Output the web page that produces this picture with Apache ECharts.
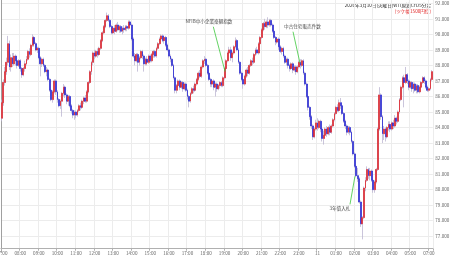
<!DOCTYPE html>
<html><head><meta charset="utf-8">
<script src="https://cdn.jsdelivr.net/npm/echarts@6/dist/echarts.min.js"></script>
<style>html,body{margin:0;padding:0;background:#fff}#c{width:450px;height:258px}</style>
</head><body><div id="c"></div>
<script>
// hour tick labels (every 12 bars of 5 minutes)
const tickLabels = ['07:00','08:00','09:00','10:00','11:00','12:00','13:00','14:00','15:00','16:00','17:00','18:00','19:00','20:00','21:00','22:00','23:00','11','01:00','02:00','03:00','04:00','05:00','07:00'];
const yTicks = {min: 76, max: 93, step: 1};
// 5-minute candles: [open, close, low, high]
const ohlc = [
[84.6,85.6,84.4,85.8],[85.6,86.9,85.4,87.1],[86.9,87.6,86.7,87.9],[87.6,88.2,87.4,88.5],[88.2,89.4,88.0,89.9],[89.4,87.9,87.7,89.6],[87.9,88.5,87.6,88.7],[88.5,88.1,87.9,88.8],[88.1,88.6,88.0,88.8],[88.6,88.3,88.0,88.7],[88.3,88.0,87.8,88.5],[88.0,88.3,87.9,88.4],
[88.3,87.8,87.6,88.4],[87.8,87.4,87.2,87.9],[87.4,87.8,87.3,87.9],[87.8,88.1,87.6,88.3],[88.1,88.4,88.0,88.6],[88.4,88.9,88.3,89.0],[88.9,88.7,88.5,89.1],[88.7,89.3,88.6,89.4],[89.3,89.8,89.2,90.0],[89.8,89.4,89.2,89.9],[89.4,89.0,88.9,89.5],[89.0,89.1,88.8,89.2],
[89.1,88.5,88.4,89.2],[88.5,88.1,87.3,88.6],[88.1,88.4,87.9,88.5],[88.4,88.0,87.9,88.5],[88.0,87.6,87.5,88.1],[87.6,87.7,87.3,87.9],[87.7,87.1,87.0,87.8],[87.1,86.4,86.3,87.2],[86.4,85.8,85.7,86.5],[85.8,86.3,85.6,86.4],[86.3,87.0,86.2,87.1],[87.0,86.3,86.1,87.1],
[86.3,85.8,85.6,86.4],[85.8,85.4,85.3,85.9],[85.4,85.7,85.2,85.8],[85.7,86.2,84.7,86.3],[86.2,86.6,86.0,86.8],[86.6,86.1,85.9,86.7],[86.1,85.7,85.5,86.2],[85.7,86.0,85.4,86.1],[86.0,85.4,85.3,86.1],[85.4,85.1,84.9,85.5],[85.1,84.8,84.6,85.2],[84.8,85.0,84.5,85.1],
[85.0,84.8,84.6,85.1],[84.8,85.1,84.7,85.2],[85.1,85.4,85.0,85.5],[85.4,85.3,85.1,85.6],[85.3,85.7,85.2,85.8],[85.7,85.9,85.5,86.0],[85.9,85.7,85.6,86.1],[85.7,86.3,85.6,86.4],[86.3,86.9,86.2,87.0],[86.9,87.6,86.8,87.7],[87.6,88.2,87.4,88.3],[88.2,88.8,88.0,88.9],
[88.8,88.6,88.4,89.0],[88.6,88.9,88.5,89.0],[88.9,88.7,88.5,89.1],[88.7,89.1,88.6,89.2],[89.1,89.6,89.0,89.7],[89.6,90.1,89.5,90.2],[90.1,90.5,90.0,90.6],[90.5,90.9,90.4,91.0],[90.9,91.2,90.8,91.4],[91.2,90.9,90.8,91.3],[90.9,90.5,90.4,91.0],[90.5,90.1,90.0,90.6],
[90.1,90.4,90.0,90.5],[90.4,90.2,90.0,90.6],[90.2,90.6,90.1,90.7],[90.6,90.3,90.2,90.8],[90.3,90.5,90.1,90.6],[90.5,90.2,90.1,90.6],[90.2,90.4,90.0,90.5],[90.4,90.3,90.1,90.6],[90.3,90.5,90.2,90.6],[90.5,90.4,90.2,90.6],[90.4,90.8,90.3,90.9],[90.8,90.6,90.4,90.9],
[90.6,89.7,89.6,90.7],[89.7,88.6,88.5,89.8],[88.6,88.3,88.0,88.8],[88.3,88.7,88.2,88.8],[88.7,88.2,87.6,88.8],[88.2,88.5,88.0,88.6],[88.5,88.9,88.4,89.0],[88.9,88.6,88.4,89.0],[88.6,88.1,87.6,88.7],[88.1,88.4,88.0,88.5],[88.4,88.2,88.0,88.6],[88.2,88.6,88.1,88.7],
[88.6,88.3,88.2,88.7],[88.3,88.7,88.2,88.8],[88.7,88.9,88.5,89.0],[88.9,88.6,88.5,89.0],[88.6,89.1,88.5,89.2],[89.1,89.4,89.0,89.5],[89.4,89.7,89.3,89.8],[89.7,89.9,89.5,90.0],[89.9,89.6,89.5,90.0],[89.6,89.8,89.4,89.9],[89.8,89.3,89.2,89.9],[89.3,89.0,88.9,89.4],
[89.0,88.6,88.5,89.1],[88.6,88.4,88.2,88.7],[88.4,88.0,87.9,88.5],[88.0,87.2,87.1,88.1],[87.2,86.4,86.2,87.3],[86.4,86.7,86.2,86.8],[86.7,87.0,86.6,87.1],[87.0,86.6,86.4,87.1],[86.6,86.9,86.5,87.0],[86.9,86.5,86.3,87.0],[86.5,86.8,86.4,86.9],[86.8,86.4,86.3,86.9],
[86.4,86.0,85.8,86.5],[86.0,85.7,85.3,86.1],[85.7,86.2,85.6,86.3],[86.2,86.5,86.1,86.6],[86.5,86.4,86.2,86.7],[86.4,86.8,86.3,86.9],[86.8,87.1,86.7,87.2],[87.1,87.5,87.0,87.6],[87.5,87.3,87.2,87.7],[87.3,87.9,87.2,88.0],[87.9,88.3,87.8,88.4],[88.3,88.4,88.1,88.6],
[88.4,88.0,87.9,88.5],[88.0,87.5,87.4,88.1],[87.5,87.1,87.0,87.6],[87.1,86.8,86.6,87.2],[86.8,87.0,86.6,87.1],[87.0,86.6,86.4,87.1],[86.6,86.8,86.0,86.9],[86.8,86.5,86.3,86.9],[86.5,86.7,86.4,86.8],[86.7,86.9,86.5,87.0],[86.9,86.7,86.6,87.0],[86.7,87.2,86.6,87.3],
[87.2,87.8,87.1,87.9],[87.8,88.3,87.7,88.4],[88.3,88.8,88.2,88.9],[88.8,89.0,88.6,89.2],[89.0,88.5,88.3,89.2],[88.5,88.8,88.2,88.9],[88.8,89.2,88.7,89.3],[89.2,89.6,89.1,89.8],[89.6,89.0,88.9,89.7],[89.0,88.2,88.1,89.1],[88.2,87.5,87.4,88.3],[87.5,87.1,87.0,87.6],
[87.1,86.8,86.5,87.2],[86.8,87.3,86.7,87.4],[87.3,87.7,87.2,87.8],[87.7,87.5,87.3,87.9],[87.5,88.0,87.4,88.1],[88.0,88.3,87.9,88.4],[88.3,88.2,88.0,88.5],[88.2,88.7,88.1,88.8],[88.7,89.0,88.6,89.1],[89.0,88.8,88.7,89.2],[88.8,89.4,88.7,89.5],[89.4,89.8,89.3,89.9],
[89.8,90.3,89.7,90.4],[90.3,90.7,90.2,90.8],[90.7,90.5,90.3,91.0],[90.5,90.8,90.4,90.9],[90.8,90.6,90.4,91.1],[90.6,90.9,90.5,91.0],[90.9,90.6,90.5,91.0],[90.6,90.2,90.1,90.7],[90.2,89.8,89.7,90.3],[89.8,89.5,89.3,89.9],[89.5,89.7,89.4,89.8],[89.7,89.2,89.0,89.8],
[89.2,88.9,88.8,89.3],[88.9,89.1,88.7,89.2],[89.1,88.6,88.5,89.2],[88.6,88.2,88.1,88.7],[88.2,88.4,88.0,88.5],[88.4,88.0,87.8,88.5],[88.0,87.8,87.6,88.1],[87.8,88.1,87.7,88.2],[88.1,87.7,87.5,88.2],[87.7,87.9,87.6,88.0],[87.9,87.6,87.4,88.0],[87.6,87.9,87.5,88.0],
[87.9,88.2,87.8,88.3],[88.2,88.0,87.8,88.4],[88.0,88.3,87.9,88.4],[88.3,87.5,87.4,88.4],[87.5,86.8,86.7,87.6],[86.8,86.0,85.9,86.9],[86.0,85.3,85.1,86.1],[85.3,84.7,84.5,85.4],[84.7,84.1,83.9,84.8],[84.1,83.4,83.2,84.2],[83.4,83.9,83.3,84.0],[83.9,84.3,83.8,84.5],
[84.3,84.0,83.8,84.6],[84.0,84.4,83.9,84.5],[84.4,83.9,83.7,84.5],[83.9,83.3,83.1,84.0],[83.3,83.5,82.9,83.8],[83.5,83.9,83.4,84.0],[83.9,83.6,83.4,84.1],[83.6,84.0,83.5,84.1],[84.0,83.7,83.5,84.2],[83.7,84.1,83.6,84.2],[84.1,84.5,84.0,84.6],[84.5,84.9,84.4,85.0],
[84.9,85.3,84.8,85.4],[85.3,85.1,85.0,85.5],[85.1,85.6,85.0,85.8],[85.6,85.4,85.2,85.9],[85.4,84.9,84.8,85.5],[84.9,84.4,84.3,85.0],[84.4,84.1,83.9,84.5],[84.1,83.7,83.5,84.2],[83.7,84.0,83.6,84.1],[84.0,83.7,83.5,84.1],[83.7,83.1,83.0,83.8],[83.1,82.3,82.2,83.2],
[82.3,81.5,81.4,82.4],[81.5,80.9,80.8,81.6],[80.9,80.7,80.5,81.4],[80.7,79.2,79.1,80.8],[79.2,77.8,77.6,79.3],[77.8,78.2,76.8,78.3],[78.2,80.1,78.1,80.2],[80.1,80.6,79.9,80.8],[80.6,81.3,80.5,81.5],[81.3,80.9,80.7,81.4],[80.9,81.2,80.6,81.4],[81.2,80.6,80.5,81.3],
[80.6,80.0,79.8,80.7],[80.0,80.5,79.8,80.6],[80.5,81.3,80.4,81.4],[81.3,83.9,81.2,84.0],[83.9,86.1,83.8,86.6],[86.1,84.7,84.5,86.2],[84.7,83.6,83.0,84.8],[83.6,83.9,83.2,84.1],[83.9,83.4,83.1,84.0],[83.4,84.0,83.3,84.1],[84.0,84.2,83.8,84.4],[84.2,83.9,83.7,84.4],
[83.9,84.3,83.8,84.4],[84.3,84.1,83.9,84.5],[84.1,84.6,84.0,84.8],[84.6,84.4,84.2,84.7],[84.4,85.0,84.3,85.1],[85.0,85.8,84.9,85.9],[85.8,86.6,85.7,86.7],[86.6,87.2,86.5,87.3],[87.2,86.9,85.3,87.4],[86.9,87.4,86.8,87.9],[87.4,87.0,86.8,87.5],[87.0,86.6,86.4,87.1],
[86.6,86.9,86.5,87.0],[86.9,86.5,86.3,87.0],[86.5,86.8,86.2,86.9],[86.8,86.4,86.3,86.9],[86.4,86.7,86.2,86.8],[86.7,86.3,86.2,86.8],[86.3,86.6,86.2,86.7],[86.6,86.9,86.5,87.0],[86.9,87.2,86.8,87.3],[87.2,87.0,86.8,87.3],[87.0,86.6,86.5,87.1],[86.6,86.4,86.3,86.7],
[86.4,86.5,86.3,86.6],[86.5,87.1,86.4,87.2],[87.1,87.6,87.0,87.7]
];
// event notes: text, text anchor [bar, price], line from / to [bar, price]
const noteTexts = ['NFIB中小企業楽観指数','中古住宅販売件数','3年債入札'];
const noteTextAt = [[133.9, 90.83],[194.3, 90.54],[218.5, 78.83]];
const noteLineFrom = [[136.7, 90.49],[188.2, 90.17],[225.0, 79.05]];
const noteLineTo = [[144.3, 87.60],[192.7, 88.14],[228.2, 80.86]];
const titleText = '2026年3月10日(火曜日)WTI原油CFD5分足';
const subText = '(ツケ幅1500円位)';

// categories: 5-minute slots from 07:00, market break 06:00-07:00
const categories = [];
for (let i = 0; i < ohlc.length; i++) {
  const h = Math.floor(i / 12), m = (i % 12) * 5;
  const hr = (7 + h + (h >= 23 ? 1 : 0)) % 24;
  categories.push(String(hr).padStart(2, '0') + ':' + String(m).padStart(2, '0'));
}
// bodies only (same values, wicks collapsed onto the body) for the coloured layer
const bodies = ohlc.map(r => [r[0], r[1], Math.min(r[0], r[1]), Math.max(r[0], r[1])]);

const FONT = '"Noto Sans CJK JP", "Liberation Sans", sans-serif';
const chart = echarts.init(document.getElementById('c'), null, {renderer: 'canvas', width: 450, height: 258});
const everyHour = (idx) => idx % 12 === 0;
const WICK = '#bdb6d2';
const series = [{
  type: 'candlestick', data: ohlc, barWidth: 1.35, silent: true,
  itemStyle: {color: WICK, color0: WICK, borderColor: WICK, borderColor0: WICK, borderWidth: 0.8}
}, {
  type: 'candlestick', data: bodies, barWidth: 1.35, silent: true,
  itemStyle: {color: '#e3262b', color0: '#2b2bd6', borderColor: '#e3262b', borderColor0: '#2b2bd6', borderWidth: 0.6}
}];
noteTexts.forEach((t, k) => {
  series.push({
    type: 'line', xAxisIndex: 1, data: [noteLineFrom[k], noteLineTo[k]],
    symbol: 'none', silent: true, lineStyle: {color: '#3cc83c', width: 0.8}
  });
});
series.push({
  type: 'scatter', xAxisIndex: 1, symbolSize: 0, silent: true,
  data: noteTexts.map((t, k) => ({name: t, value: noteTextAt[k]})),
  label: {show: true, position: 'inside', formatter: p => p.name, fontSize: 4.6, color: '#222', fontFamily: FONT}
});
chart.setOption({
  animation: false,
  backgroundColor: '#ffffff',
  grid: {left: 0.93, right: 450 - 432.8, top: -12.23, height: 264.0, outerBoundsMode: 'none', containLabel: false},
  xAxis: [{
    type: 'category', data: categories, boundaryGap: true, offset: -3.1,
    axisLine: {show: true, lineStyle: {color: '#b0b0b0', width: 1}},
    axisTick: {show: true, interval: everyHour, length: 2, lineStyle: {color: '#b0b0b0'}},
    axisLabel: {interval: everyHour, formatter: (v, idx) => tickLabels[idx / 12] || '', fontSize: 4.6, color: '#666', margin: 2.5, fontFamily: FONT},
    splitLine: {show: true, interval: everyHour, lineStyle: {color: '#ececec', width: 1}}
  }, {
    type: 'value', min: -0.5, max: ohlc.length - 0.5, show: false
  }],
  yAxis: {
    type: 'value', position: 'right', min: yTicks.min, max: yTicks.max, interval: yTicks.step,
    axisLine: {show: true, lineStyle: {color: '#a0a0a0', width: 1}},
    axisTick: {show: false},
    axisLabel: {formatter: v => v.toFixed(3), fontSize: 4.6, color: '#666', margin: 2.5, showMinLabel: false, showMaxLabel: false, fontFamily: FONT},
    splitLine: {show: true, showMinLine: false, lineStyle: {color: '#ececec', width: 1}}
  },
  graphic: [
    {type: 'text', right: 19, top: 2.5, style: {text: titleText, fontSize: 4.6, fill: '#222', fontFamily: FONT, align: 'right'}},
    {type: 'text', right: 19, top: 8.5, style: {text: subText, fontSize: 4.6, fill: '#e02020', fontFamily: FONT, align: 'right'}}
  ],
  series: series
});
</script></body></html>
